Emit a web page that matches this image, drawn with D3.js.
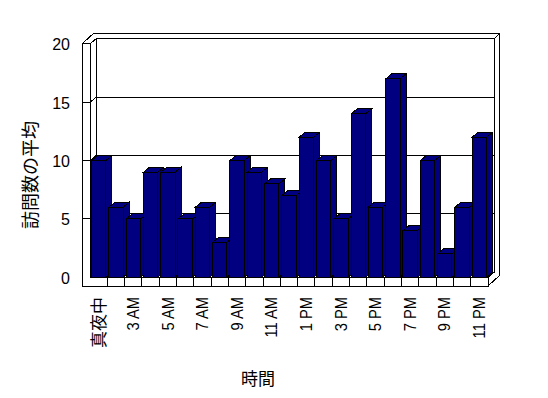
<!DOCTYPE html>
<html>
<head>
<meta charset="utf-8">
<script src="https://cdn.jsdelivr.net/npm/d3@7"></script>
<style>
	body { margin: 0; background: #ffffff; }
	text { font-family: "Liberation Sans", Arial, sans-serif; fill: #000000; }
	.jp { font-family: "Noto Sans CJK JP", sans-serif; }
</style>
</head>
<body>
<svg id="chart" width="548" height="398"></svg>
<script>
const hours = ["真夜中", "2 AM", "3 AM", "4 AM", "5 AM", "6 AM", "7 AM", "8 AM", "9 AM", "10 AM", "11 AM", "正午",
	"1 PM", "2 PM", "3 PM", "4 PM", "5 PM", "6 PM", "7 PM", "8 PM", "9 PM", "10 PM", "11 PM"];
const visits = [10, 6, 5, 9, 9, 5, 6, 3, 10, 9, 8, 7, 12, 10, 5, 14, 6, 17, 4, 10, 2, 6, 12];
const yTicks = [0, 5, 10, 15, 20];
const gridValues = [5, 10, 15];
const yTitle = "訪問数の平均";
const xTitle = "時間";

const svg = d3.select("#chart");
svg.append("rect").attr("width", 548).attr("height", 398).attr("fill", "#ffffff");

const left = 90, right = 488, floorBottom = 286;
const dep = [6, -5];     // depth of the plot area
const full = [11, -10];  // depth incl. wall thickness
const wallX = 82;

const xScale = d3.scaleBand().domain(hours).range([left, right]).paddingInner(0.17).paddingOuter(0.085);
const xFloor = d3.scaleBand().domain(hours).range([left, right]);
const yScale = d3.scaleLinear().domain([0, 20]).range([277.3, 43.9]);

const y0 = yScale(0), yTop = yScale(20);
const line = d3.line();

const g = svg.append("g").attr("shape-rendering", "crispEdges");

function poly(points, fill) {
	return g.append("path")
					.attr("d", line(points) + "Z")
					.attr("fill", fill)
					.attr("stroke", "black")
					.attr("stroke-width", 1);
}

// walls - top
poly([[wallX, yTop], [wallX + full[0], yTop + full[1]], [right + full[0], yTop + full[1]],
	[right + dep[0], yTop + dep[1]], [left + dep[0], yTop + dep[1]], [left, yTop]], "#ffffff");

// walls - right side
poly([[right + dep[0], yTop + dep[1]], [right + full[0], yTop + full[1]], [right + full[0], floorBottom + full[1]],
	[right, floorBottom], [right, y0], [right + dep[0], y0 + dep[1]]], "#ffffff");

// back wall
poly([[left + dep[0], yTop + dep[1]], [right + dep[0], yTop + dep[1]], [right + dep[0], y0 + dep[1]],
	[left + dep[0], y0 + dep[1]]], "#ffffff");

// left wall inner face
poly([[left, yTop], [left + dep[0], yTop + dep[1]], [left + dep[0], y0 + dep[1]], [left, y0]], "#ffffff");

// floor top
poly([[left, y0], [right, y0], [right + dep[0], y0 + dep[1]], [left + dep[0], y0 + dep[1]]], "#ffffff");

// left wall + floor front
poly([[wallX, yTop], [left, yTop], [left, y0], [right, y0], [right, floorBottom], [wallX, floorBottom]], "#ffffff");

// gridlines
gridValues.forEach(v => {
	const y = yScale(v);
	g.append("path")
		.attr("d", line([[wallX, y], [left, y], [left + dep[0], y + dep[1]], [right + dep[0], y + dep[1]]]))
		.attr("fill", "none")
		.attr("stroke", "black")
		.attr("stroke-width", 1);
});

// floor ticks
g.selectAll(".floorTick")
	.data(hours.slice(1))
	.enter()
	.append("line")
	.attr("class", "floorTick")
	.attr("x1", d => xFloor(d))
	.attr("x2", d => xFloor(d))
	.attr("y1", y0)
	.attr("y2", floorBottom)
	.attr("stroke", "black")
	.attr("stroke-width", 1);

// bars
const w = xScale.bandwidth();
hours.forEach((h, i) => {
	const x = xScale(h);
	const y = yScale(visits[i]);
	poly([[x + w, y], [x + w + dep[0], y + dep[1]], [x + w + dep[0], y0 + dep[1]], [x + w, y0]], "#000080");
	poly([[x, y], [x + dep[0], y + dep[1]], [x + w + dep[0], y + dep[1]], [x + w, y]], "#000080");
	poly([[x, y], [x + w, y], [x + w, y0], [x, y0]], "#000080");
});

// axis - y labels
svg.selectAll(".yLabel")
	.data(yTicks)
	.enter()
	.append("text")
	.attr("class", "yLabel")
	.attr("x", 70)
	.attr("y", d => yScale(d) + 1)
	.attr("text-anchor", "end")
	.attr("dominant-baseline", "central")
	.style("font-size", "16px")
	.text(d => d);

// axis - x labels (every second category)
const isLatin = d => /[A-Z]/.test(d);
svg.selectAll(".xLabel")
	.data(hours.filter((d, i) => i % 2 === 0))
	.enter()
	.append("text")
	.attr("class", d => isLatin(d) ? "xLabel" : "xLabel jp")
	.attr("transform", d => {
		const cx = xFloor(d) + xFloor.bandwidth() / 2;
		return isLatin(d)
			? `translate(${cx}, 297) rotate(-90) scale(0.92, 1)`
			: `translate(${cx - 1.5}, 297) rotate(-90)`;
	})
	.attr("text-anchor", "end")
	.attr("dominant-baseline", "central")
	.style("font-size", d => isLatin(d) ? "16px" : "17px")
	.text(d => d);

// titles
svg.append("text")
	.attr("class", "jp")
	.attr("transform", "translate(29, 175) rotate(-90)")
	.attr("text-anchor", "middle")
	.attr("dominant-baseline", "central")
	.style("font-size", "18px")
	.text(yTitle);

svg.append("text")
	.attr("class", "jp")
	.attr("x", 258)
	.attr("y", 377)
	.attr("text-anchor", "middle")
	.attr("dominant-baseline", "central")
	.style("font-size", "17px")
	.text(xTitle);
</script>
</body>
</html>
